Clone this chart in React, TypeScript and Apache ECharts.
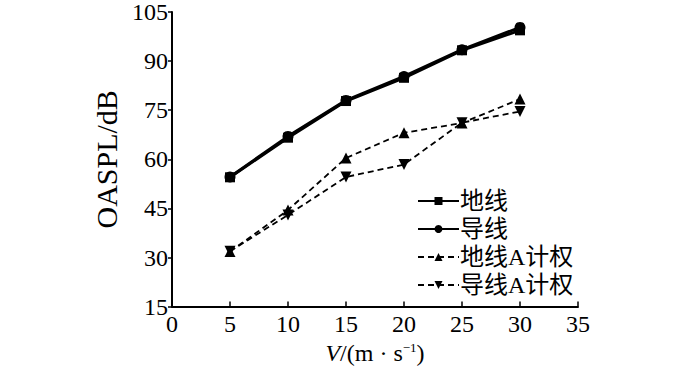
import React, { useEffect, useRef } from "react";
import * as echarts from "echarts";

const speeds = [5, 10, 15, 20, 25, 30];
const groundWire = [54.5, 66.6, 77.8, 84.9, 93.3, 99.4];
const conductor = [54.6, 67.0, 78.0, 85.3, 93.5, 100.3];
const groundWireA = [31.8, 44.5, 60.4, 68.1, 71.1, 78.4];
const conductorA = [31.9, 43.0, 54.6, 58.4, 71.2, 74.6];
const seriesNames = ["地线", "导线", "地线A计权", "导线A计权"];

const serif = "'Liberation Serif', 'Times New Roman', 'Noto Sans CJK SC', serif";

export default function App() {
  const ref = useRef<HTMLDivElement>(null);
  useEffect(() => {
    if (!ref.current) return;
    const chart = echarts.init(ref.current, undefined, { renderer: "svg" });
    const pair = (ys: number[]) => speeds.map((x, i) => [x, ys[i]]);
    const mk = (name: string, ys: number[], symbol: string, dashed: boolean, size: number) => ({
      name,
      type: "line",
      data: pair(ys),
      symbol,
      symbolSize: size,
      showSymbol: true,
      itemStyle: { color: "#000" },
      lineStyle: { color: "#000", width: dashed ? 1.8 : 3, type: dashed ? [6, 4] : "solid" },
    });
    chart.setOption({
      animation: false,
      backgroundColor: "#fff",
      grid: { left: 172, right: 122, top: 7, bottom: 58 },
      legend: {
        orient: "vertical",
        left: 412,
        top: 184,
        itemWidth: 41,
        itemHeight: 10,
        itemGap: 4,
        textStyle: { fontFamily: serif, fontSize: 24, color: "#000", padding: [0, 0, 0, -4] },
        data: seriesNames,
      },
      xAxis: {
        type: "value",
        min: 0,
        max: 35,
        interval: 5,
        name: "{i|V}/(m · s{s|−1})",
        nameLocation: "middle",
        nameGap: 31,
        nameTextStyle: {
          fontFamily: serif,
          fontSize: 24,
          color: "#000",
          rich: {
            i: { fontFamily: serif, fontSize: 24, fontStyle: "italic", color: "#000" },
            s: { fontFamily: serif, fontSize: 13, color: "#000", verticalAlign: "top", padding: [0, 0, 12, 0] },
          },
        },
        axisLine: { lineStyle: { color: "#000", width: 2 } },
        axisTick: { inside: true, length: 5, lineStyle: { color: "#000", width: 1.5 } },
        axisLabel: { fontFamily: serif, fontSize: 24, color: "#000", margin: 5 },
        splitLine: { show: false },
      },
      yAxis: {
        type: "value",
        min: 15,
        max: 105,
        interval: 15,
        name: "OASPL/dB",
        nameLocation: "middle",
        nameGap: 45,
        nameTextStyle: { fontFamily: serif, fontSize: 30, color: "#000" },
        axisLine: { show: true, lineStyle: { color: "#000", width: 2 } },
        axisTick: { show: true, inside: false, length: 4, lineStyle: { color: "#000", width: 1.5 } },
        axisLabel: { fontFamily: serif, fontSize: 24, color: "#000", margin: 4 },
        splitLine: { show: false },
      },
      series: [
        mk(seriesNames[0], groundWire, "rect", false, 10),
        mk(seriesNames[1], conductor, "circle", false, 11),
        mk(seriesNames[2], groundWireA, "triangle", true, 11),
        mk(seriesNames[3], conductorA, "path://M0,0 L10,0 L5,9 Z", true, 11),
      ],
    });
    return () => chart.dispose();
  }, []);
  return <div ref={ref} style={{ position: "absolute", left: 0, top: 0, width: 700, height: 370 }} />;
}
